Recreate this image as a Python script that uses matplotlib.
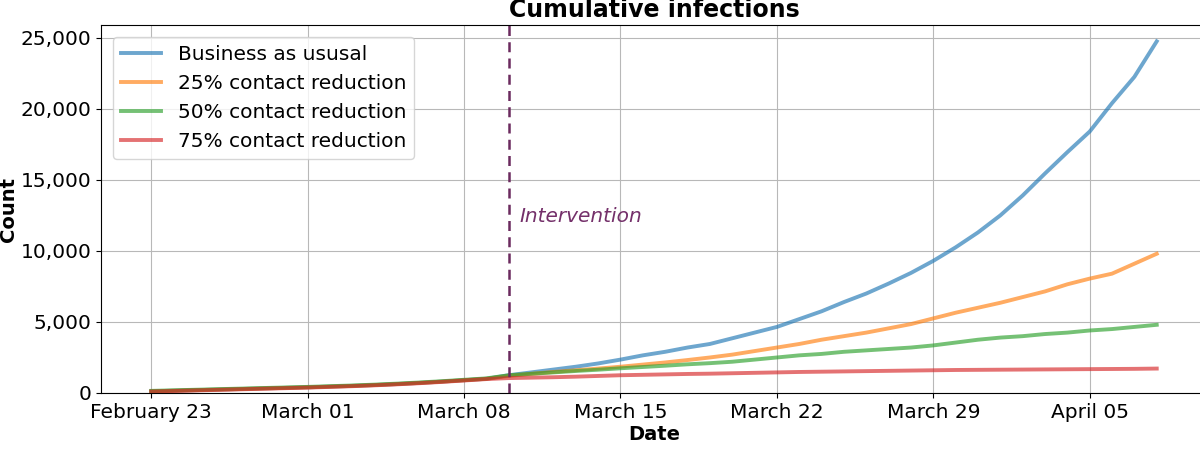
import matplotlib
matplotlib.use("Agg")
import matplotlib.pyplot as plt
import matplotlib.dates as mdates
from matplotlib.ticker import FuncFormatter
import pandas as pd

dates = pd.date_range("2020-02-23", "2020-04-08", freq="D")

pre_common = [120, 160, 200, 240, 280, 320, 360, 400, 450, 500, 560, 630, 710, 800, 900, 1000]

business_as_usual = pre_common + [
    1250, 1450, 1650, 1850, 2080, 2350, 2650, 2900, 3200, 3450, 3850, 4250, 4650,
    5200, 5750, 6400, 7000, 7700, 8450, 9300, 10250, 11300, 12500, 13900, 15450,
    16950, 18400, 20400, 22250, 24750]
reduction_25 = pre_common + [
    1200, 1350, 1480, 1600, 1720, 1850, 2000, 2150, 2320, 2500, 2700, 2950, 3200,
    3450, 3750, 4000, 4250, 4550, 4850, 5250, 5650, 6000, 6350, 6750, 7150,
    7650, 8050, 8400, 9100, 9800]
reduction_50 = [v + 30 for v in pre_common] + [
    1250, 1350, 1450, 1550, 1640, 1740, 1830, 1920, 2020, 2100, 2200, 2350, 2500,
    2650, 2750, 2900, 3000, 3100, 3200, 3350, 3550, 3750, 3900, 4000, 4150,
    4250, 4400, 4500, 4650, 4800]
reduction_75 = [v - 20 for v in pre_common] + [
    1050, 1080, 1110, 1150, 1200, 1250, 1280, 1310, 1340, 1360, 1390, 1420, 1450,
    1480, 1500, 1520, 1540, 1560, 1580, 1600, 1620, 1630, 1640, 1650, 1660,
    1670, 1680, 1690, 1700, 1720]

series_labels = ["Business as ususal", "25% contact reduction",
                 "50% contact reduction", "75% contact reduction"]
series_values = [business_as_usual, reduction_25, reduction_50, reduction_75]
series_colors = ["tab:blue", "tab:orange", "tab:green", "tab:red"]

intervention_date = pd.Timestamp("2020-03-10")
intervention_label = "Intervention"

fig = plt.figure(figsize=(12, 4.49), dpi=100)
ax = fig.add_axes([101/1200, 1 - 393/449, 1106/1200, 368/449])

for lab, vals, col in zip(series_labels, series_values, series_colors):
    ax.plot(dates, vals, color=col, lw=2.8, alpha=0.65, label=lab)

ax.axvline(intervention_date, color="#6b2a5e", ls="--", lw=1.8, dashes=(4, 2.5))
ax.text(intervention_date + pd.Timedelta(hours=12), 12450, intervention_label,
        color="#74306a", fontsize=14.5, style="italic", va="center", ha="left")

ax.set_ylim(0, 25900)
ax.xaxis.set_major_locator(mdates.WeekdayLocator(byweekday=mdates.SU))
ax.xaxis.set_major_formatter(mdates.DateFormatter("%B %d"))
ax.yaxis.set_major_formatter(FuncFormatter(lambda v, p: f"{int(v):,}"))
ax.tick_params(labelsize=14.5)
ax.grid(True, color="#b8b8b8", lw=0.8)
ax.set_xlabel("Date", fontsize=14, fontweight="bold", labelpad=2)
ax.set_ylabel("Count", fontsize=14, fontweight="bold", labelpad=2)
ax.set_title("Cumulative infections", fontsize=17, fontweight="bold")
ax.legend(loc="upper left", fontsize=14.5, borderaxespad=0.6)

fig.savefig("out.png", dpi=100)
